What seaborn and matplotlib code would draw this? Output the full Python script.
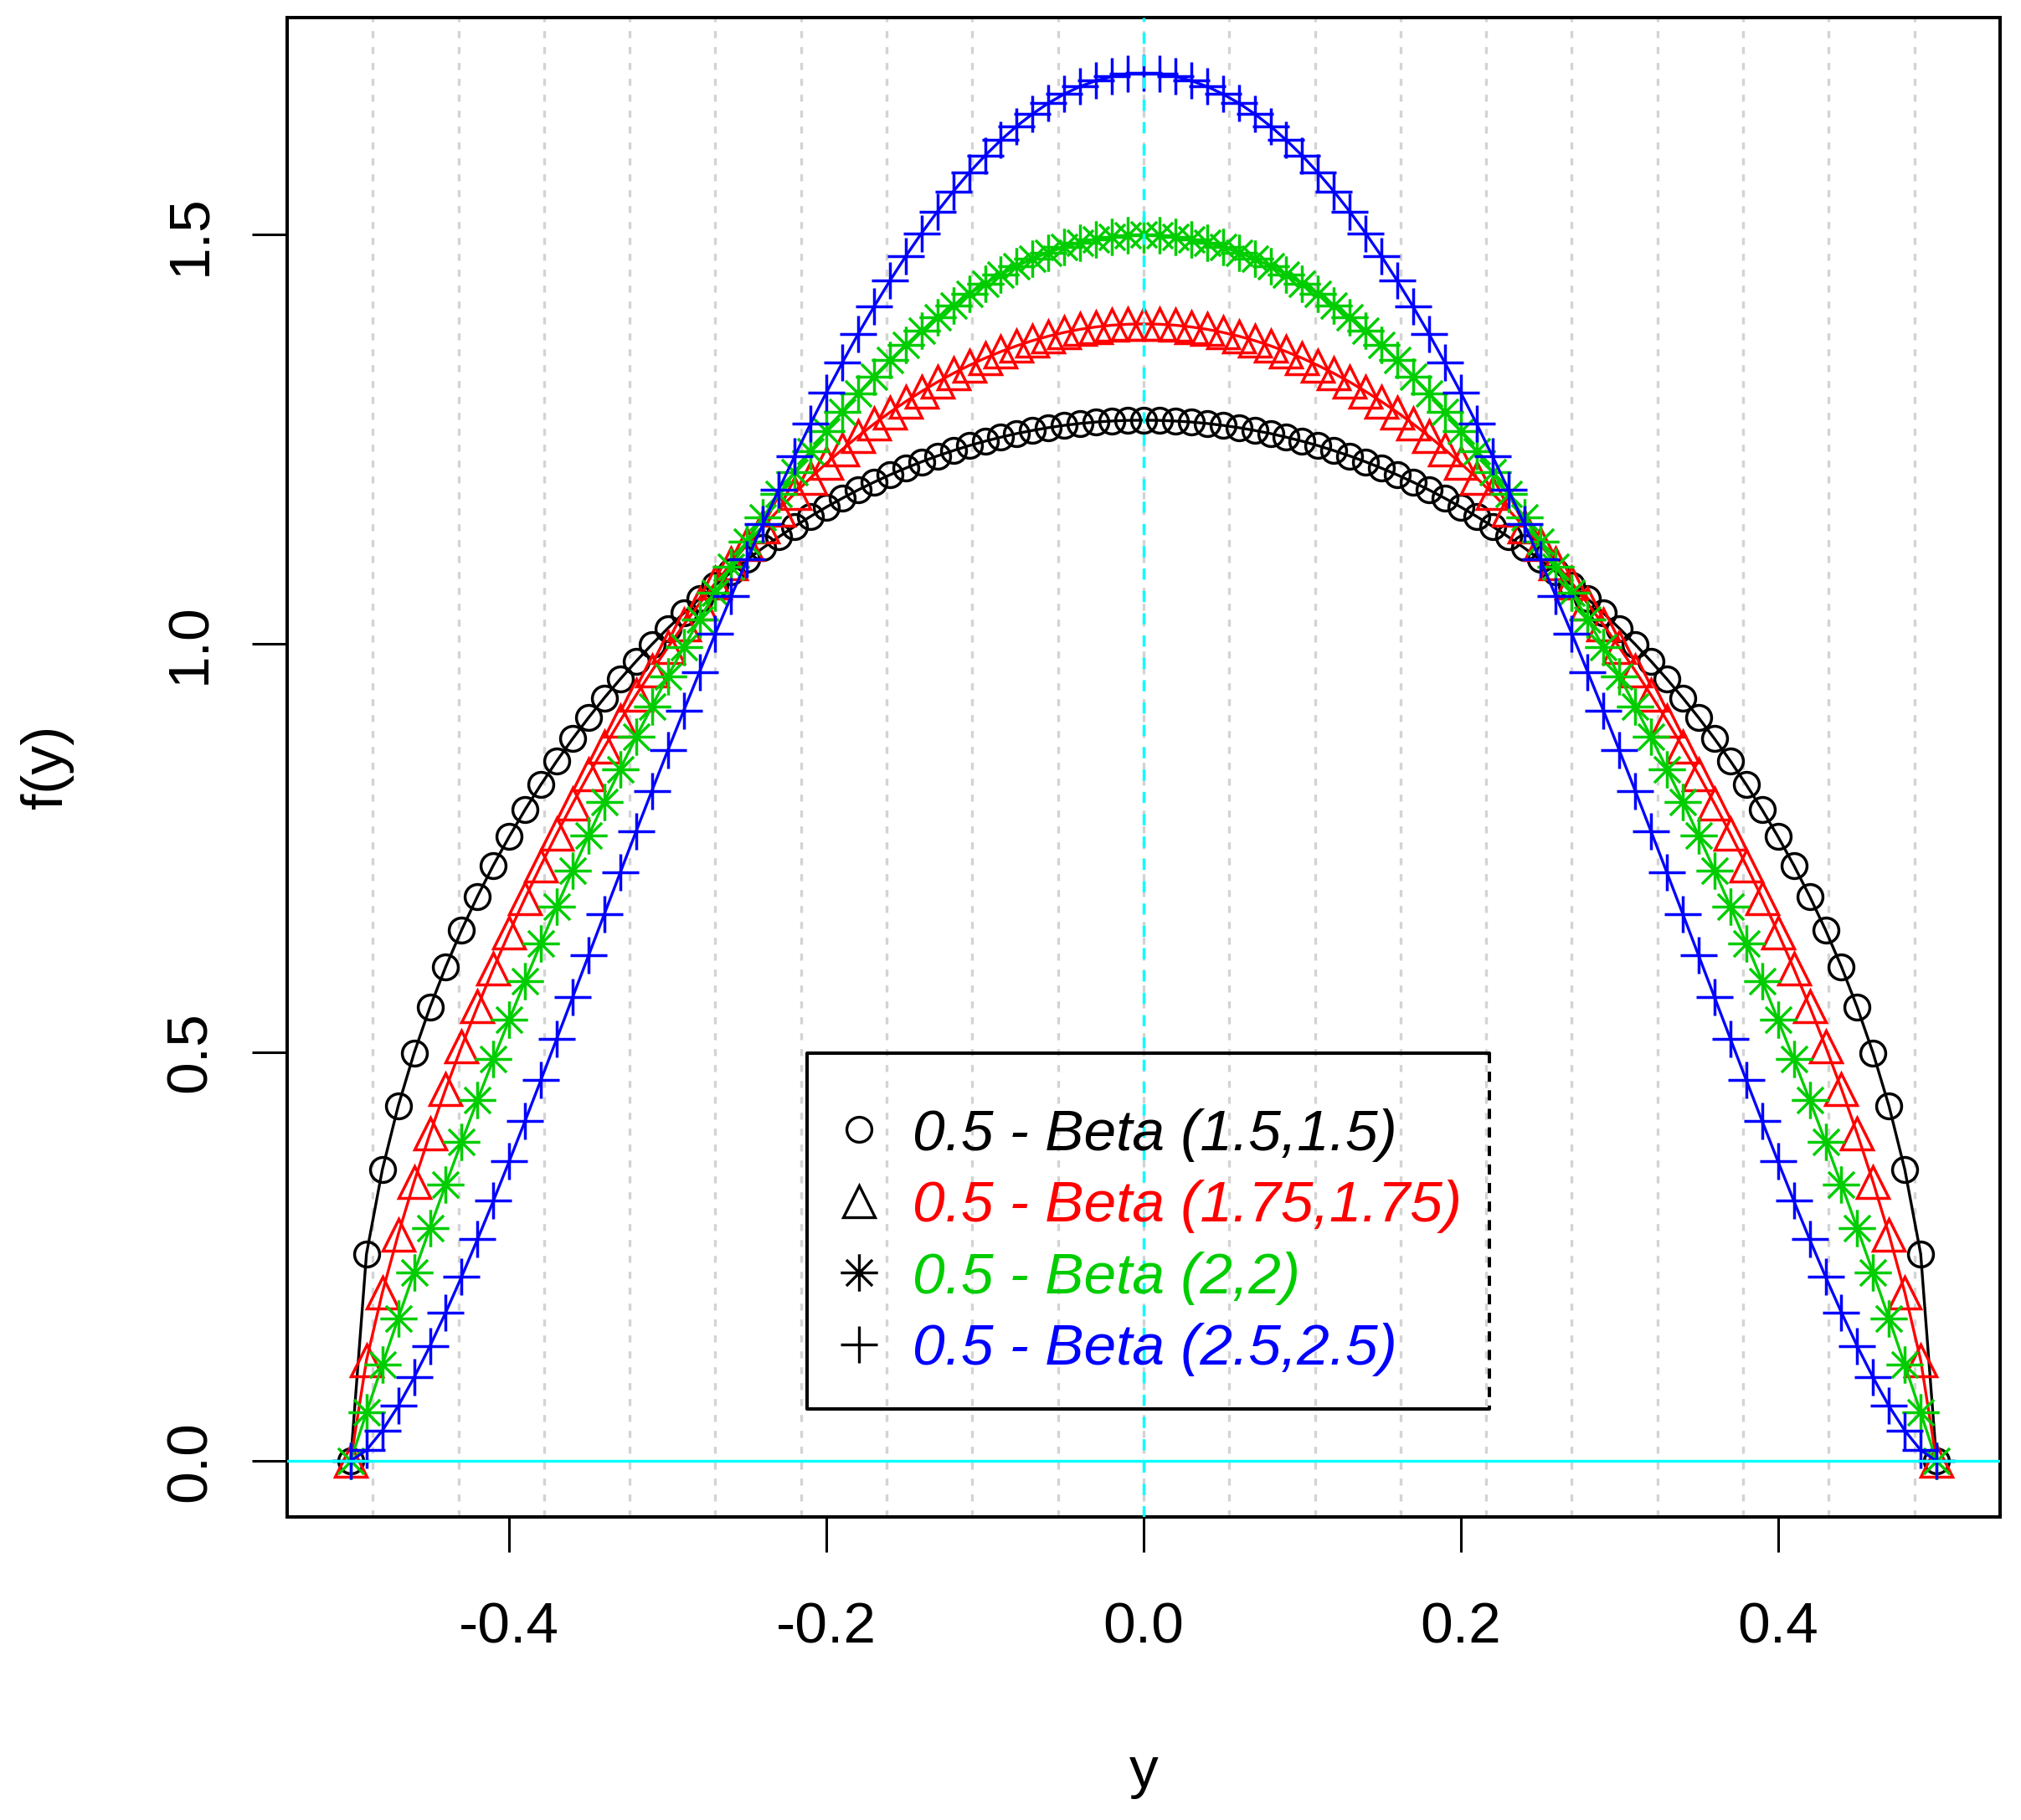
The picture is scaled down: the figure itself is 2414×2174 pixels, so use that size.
import numpy as np
import pandas as pd
import seaborn as sns
import matplotlib.pyplot as plt
from matplotlib.path import Path
from matplotlib.lines import Line2D

# y grid and density values of 0.5 - Beta(a, a)
y_vals = [-0.50, -0.49, -0.48, -0.47, -0.46, -0.45, -0.44, -0.43, -0.42, -0.41,
          -0.40, -0.39, -0.38, -0.37, -0.36, -0.35, -0.34, -0.33, -0.32, -0.31,
          -0.30, -0.29, -0.28, -0.27, -0.26, -0.25, -0.24, -0.23, -0.22, -0.21,
          -0.20, -0.19, -0.18, -0.17, -0.16, -0.15, -0.14, -0.13, -0.12, -0.11,
          -0.10, -0.09, -0.08, -0.07, -0.06, -0.05, -0.04, -0.03, -0.02, -0.01,
          0.00,
          0.01, 0.02, 0.03, 0.04, 0.05, 0.06, 0.07, 0.08, 0.09, 0.10,
          0.11, 0.12, 0.13, 0.14, 0.15, 0.16, 0.17, 0.18, 0.19, 0.20,
          0.21, 0.22, 0.23, 0.24, 0.25, 0.26, 0.27, 0.28, 0.29, 0.30,
          0.31, 0.32, 0.33, 0.34, 0.35, 0.36, 0.37, 0.38, 0.39, 0.40,
          0.41, 0.42, 0.43, 0.44, 0.45, 0.46, 0.47, 0.48, 0.49, 0.50]

f_beta15 = [0.0, 0.2534, 0.3565, 0.4344, 0.4990, 0.5550, 0.6048, 0.6497, 0.6908, 0.7288,
            0.7639, 0.7968, 0.8275, 0.8564, 0.8836, 0.9093, 0.9336, 0.9565, 0.9783, 0.9990,
            1.0186, 1.0372, 1.0549, 1.0716, 1.0876, 1.1027, 1.1170, 1.1305, 1.1434, 1.1555,
            1.1670, 1.1777, 1.1879, 1.1974, 1.2063, 1.2146, 1.2223, 1.2295, 1.2360, 1.2421,
            1.2475, 1.2524, 1.2569, 1.2607, 1.2641, 1.2669, 1.2692, 1.2710, 1.2722, 1.2730,
            1.2732,
            1.2730, 1.2722, 1.2710, 1.2692, 1.2669, 1.2641, 1.2607, 1.2569, 1.2524, 1.2475,
            1.2421, 1.2360, 1.2295, 1.2223, 1.2146, 1.2063, 1.1974, 1.1879, 1.1777, 1.1670,
            1.1555, 1.1434, 1.1305, 1.1170, 1.1027, 1.0876, 1.0716, 1.0549, 1.0372, 1.0186,
            0.9990, 0.9783, 0.9565, 0.9336, 0.9093, 0.8836, 0.8564, 0.8275, 0.7968, 0.7639,
            0.7288, 0.6908, 0.6497, 0.6048, 0.5550, 0.4990, 0.4344, 0.3565, 0.2534, 0.0]

f_beta175 = [0.0, 0.1235, 0.2061, 0.2772, 0.3413, 0.4003, 0.4554, 0.5071, 0.5559, 0.6023,
             0.6465, 0.6886, 0.7288, 0.7673, 0.8042, 0.8395, 0.8733, 0.9058, 0.9369, 0.9667,
             0.9953, 1.0228, 1.0490, 1.0741, 1.0981, 1.1211, 1.1430, 1.1638, 1.1837, 1.2026,
             1.2205, 1.2375, 1.2535, 1.2686, 1.2828, 1.2960, 1.3084, 1.3199, 1.3305, 1.3402,
             1.3491, 1.3571, 1.3642, 1.3706, 1.3760, 1.3806, 1.3844, 1.3873, 1.3894, 1.3906,
             1.3910,
             1.3906, 1.3894, 1.3873, 1.3844, 1.3806, 1.3760, 1.3706, 1.3642, 1.3571, 1.3491,
             1.3402, 1.3305, 1.3199, 1.3084, 1.2960, 1.2828, 1.2686, 1.2535, 1.2375, 1.2205,
             1.2026, 1.1837, 1.1638, 1.1430, 1.1211, 1.0981, 1.0741, 1.0490, 1.0228, 0.9953,
             0.9667, 0.9369, 0.9058, 0.8733, 0.8395, 0.8042, 0.7673, 0.7288, 0.6886, 0.6465,
             0.6023, 0.5559, 0.5071, 0.4554, 0.4003, 0.3413, 0.2772, 0.2061, 0.1235, 0.0]

f_beta2 = [0.0, 0.0594, 0.1176, 0.1746, 0.2304, 0.2850, 0.3384, 0.3906, 0.4416, 0.4914,
           0.5400, 0.5874, 0.6336, 0.6786, 0.7224, 0.7650, 0.8064, 0.8466, 0.8856, 0.9234,
           0.9600, 0.9954, 1.0296, 1.0626, 1.0944, 1.1250, 1.1544, 1.1826, 1.2096, 1.2354,
           1.2600, 1.2834, 1.3056, 1.3266, 1.3464, 1.3650, 1.3824, 1.3986, 1.4136, 1.4274,
           1.4400, 1.4514, 1.4616, 1.4706, 1.4784, 1.4850, 1.4904, 1.4946, 1.4976, 1.4994,
           1.5000,
           1.4994, 1.4976, 1.4946, 1.4904, 1.4850, 1.4784, 1.4706, 1.4616, 1.4514, 1.4400,
           1.4274, 1.4136, 1.3986, 1.3824, 1.3650, 1.3464, 1.3266, 1.3056, 1.2834, 1.2600,
           1.2354, 1.2096, 1.1826, 1.1544, 1.1250, 1.0944, 1.0626, 1.0296, 0.9954, 0.9600,
           0.9234, 0.8856, 0.8466, 0.8064, 0.7650, 0.7224, 0.6786, 0.6336, 0.5874, 0.5400,
           0.4914, 0.4416, 0.3906, 0.3384, 0.2850, 0.2304, 0.1746, 0.1176, 0.0594, 0.0]

f_beta25 = [0.0, 0.0134, 0.0373, 0.0674, 0.1022, 0.1406, 0.1819, 0.2256, 0.2712, 0.3183,
            0.3667, 0.4160, 0.4661, 0.5166, 0.5674, 0.6183, 0.6692, 0.7198, 0.7701, 0.8200,
            0.8692, 0.9177, 0.9654, 1.0122, 1.0580, 1.1027, 1.1462, 1.1884, 1.2293, 1.2689,
            1.3070, 1.3435, 1.3786, 1.4119, 1.4437, 1.4737, 1.5020, 1.5284, 1.5531, 1.5759,
            1.5968, 1.6158, 1.6329, 1.6479, 1.6611, 1.6722, 1.6814, 1.6885, 1.6936, 1.6966,
            1.6977,
            1.6966, 1.6936, 1.6885, 1.6814, 1.6722, 1.6611, 1.6479, 1.6329, 1.6158, 1.5968,
            1.5759, 1.5531, 1.5284, 1.5020, 1.4737, 1.4437, 1.4119, 1.3786, 1.3435, 1.3070,
            1.2689, 1.2293, 1.1884, 1.1462, 1.1027, 1.0580, 1.0122, 0.9654, 0.9177, 0.8692,
            0.8200, 0.7701, 0.7198, 0.6692, 0.6183, 0.5674, 0.5166, 0.4661, 0.4160, 0.3667,
            0.3183, 0.2712, 0.2256, 0.1819, 0.1406, 0.1022, 0.0674, 0.0373, 0.0134, 0.0]

series_labels = ['0.5 - Beta (1.5,1.5)', '0.5 - Beta (1.75,1.75)',
                 '0.5 - Beta (2,2)', '0.5 - Beta (2.5,2.5)']
x_ticks = [-0.4, -0.2, 0.0, 0.2, 0.4]
x_ticklabels = ['-0.4', '-0.2', '0.0', '0.2', '0.4']
y_ticks = [0.0, 0.5, 1.0, 1.5]
y_ticklabels = ['0.0', '0.5', '1.0', '1.5']

df = pd.DataFrame({'y': y_vals, 'b15': f_beta15, 'b175': f_beta175,
                   'b2': f_beta2, 'b25': f_beta25})

sns.set_style('white')
plt.rcParams['font.family'] = ['Liberation Sans', 'DejaVu Sans']
plt.rcParams['text.color'] = 'black'
plt.rcParams['axes.labelcolor'] = 'black'
plt.rcParams['xtick.color'] = 'black'
plt.rcParams['ytick.color'] = 'black'

# R style asterisk (pch = 8): a plus and an x on top of each other
asterisk = Path([(-1, 0), (1, 0), (0, -1), (0, 1),
                 (-0.7, -0.7), (0.7, 0.7), (-0.7, 0.7), (0.7, -0.7)],
                [Path.MOVETO, Path.LINETO] * 4)

cols = ['b15', 'b175', 'b2', 'b25']
colors = ['black', '#FF0000', '#00CD00', '#0000FF']
markers = ['o', '^', asterisk, '+']
msizes = [21.5, 27, 32, 32]
FS = 50

fig = plt.figure(figsize=(24.14, 21.74), dpi=100)
ax = fig.add_axes([0.1421, 0.1667, 0.8475, 0.8236])
xlim = (-0.54, 0.54)
ylim = (-0.0679, 1.7656)

# vertical grid like R's grid(nx = 20)
for gx in np.linspace(xlim[0], xlim[1], 21)[1:-1]:
    ax.axvline(gx, color='lightgray', lw=2.4, ls=(0, (2.5, 3.2)), zorder=1)

for col, c, m, ms in zip(cols, colors, markers, msizes):
    sns.lineplot(data=df, x='y', y=col, ax=ax, color=c, marker=m, markersize=ms,
                 markerfacecolor='none', markeredgecolor=c, markeredgewidth=2.5,
                 linewidth=2.4, legend=False, zorder=3)

ax.axhline(0, color='cyan', lw=2.4, zorder=5)
ax.axvline(0, color='cyan', lw=2.4, ls=(0, (4, 4)), zorder=5)

ax.set_xlim(*xlim)
ax.set_ylim(*ylim)
ax.set_xticks(x_ticks)
ax.set_xticklabels(x_ticklabels)
ax.set_yticks(y_ticks)
ax.set_yticklabels(y_ticklabels, rotation=90, va='center')
ax.tick_params(axis='both', direction='out', length=30, width=2.2, color='black',
               labelcolor='black', labelsize=FS, bottom=True, left=True)
ax.tick_params(axis='x', pad=43)
ax.tick_params(axis='y', pad=30)
for sp in ax.spines.values():
    sp.set_color('black')
    sp.set_linewidth(2.9)

ax.set_xlabel('y', fontsize=FS, va='baseline', color='black')
ax.xaxis.set_label_coords(0.5, -0.1807)
ax.set_ylabel('f(y)', fontsize=FS, va='baseline', color='black')
ax.yaxis.set_label_coords(-0.1315, 0.5)

# legend: black symbols, coloured italic text, box with dashed right side
handles = [Line2D([], [], color='black', marker=m, ms=ms, mfc='none', mew=2.4, ls='none')
           for m, ms in zip(markers, msizes)]
leg = ax.legend(handles, series_labels, loc='center left', bbox_to_anchor=(0.3167, 0.183),
                frameon=False, prop={'style': 'italic', 'size': FS}, handlelength=1.0,
                handletextpad=0.43, labelspacing=0.31, borderpad=0, borderaxespad=0)
for t, c in zip(leg.get_texts(), colors):
    t.set_color(c)

bx0, bx1, by0, by1 = 0.3035, 0.7019, 0.0718, 0.3091
ax.plot([bx1, bx0, bx0, bx1], [by1, by1, by0, by0], transform=ax.transAxes,
        color='black', lw=2.9, zorder=6)
ax.plot([bx1, bx1], [by1, by0], transform=ax.transAxes, color='black', lw=2.9,
        ls=(0, (3, 2.5)), zorder=6)

fig.savefig('out.png', dpi=100)
